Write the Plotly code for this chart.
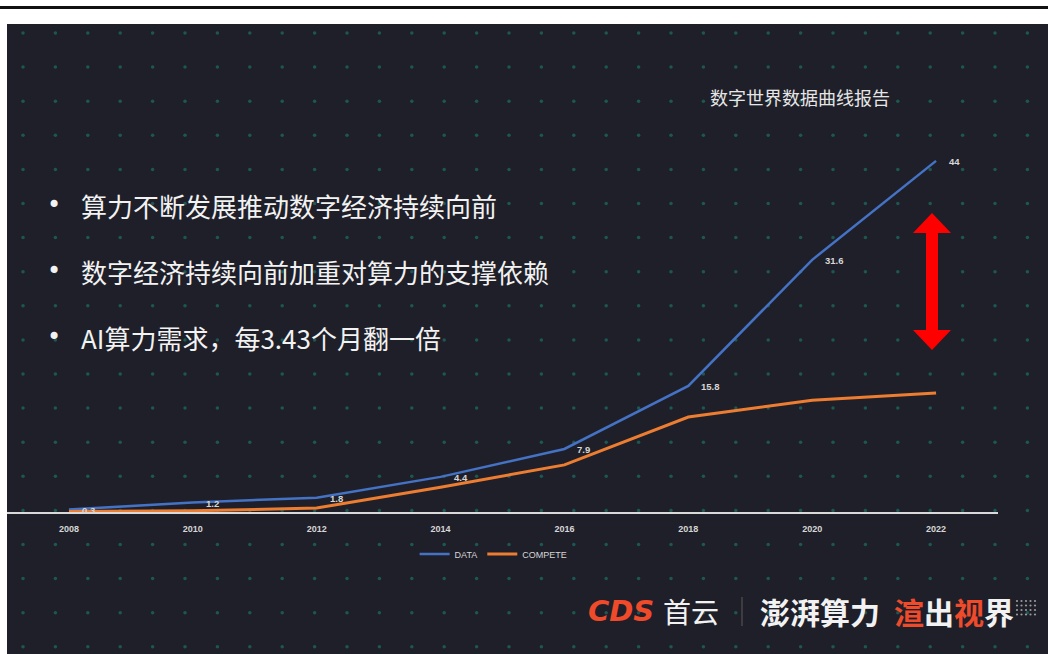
import numpy as np
import plotly.graph_objects as go

W, H = 1048, 654

# ---- data ----
years = [2008, 2010, 2012, 2014, 2016, 2018, 2020, 2022]
data_values = [0.3, 1.2, 1.8, 4.4, 7.9, 15.8, 31.6, 44]
compete_values = [0.05, 0.15, 0.5, 3.1, 5.9, 11.9, 14.0, 14.9]
year_labels = [str(y) for y in years]

title_text = "数字世界数据曲线报告"
bullet_lines = [
    "算力不断发展推动数字经济持续向前",
    "数字经济持续向前加重对算力的支撑依赖",
    "AI算力需求，每3.43个月翻一倍",
]

PANEL = "#1f1f29"
DOT = "#1d5752"
LABEL = "#d6d6d6"
BLUE = "#4472c4"
ORANGE = "#ed7d31"
LOGO_RED = "#ef4b2b"
CJK = "Noto Sans CJK SC"


def px(x):
    return x / W


def py(y):
    return 1 - y / H


fig = go.Figure()

# background dot grid (pixel-space overlay axes x/y)
gx = 23 + 32.4 * np.arange(32)
gy = 33 + 34.1 * np.arange(19)
GX, GY = np.meshgrid(gx, gy)
fig.add_trace(go.Scatter(
    x=GX.ravel(), y=GY.ravel(), mode="markers",
    marker=dict(size=3.5, color=DOT), hoverinfo="skip", showlegend=False,
    xaxis="x", yaxis="y",
))

# small dotted mark after the slogan
lx = 1017 + 4.5 * np.arange(5)
ly = 601 + 4.5 * np.arange(4)
LX, LY = np.meshgrid(lx, ly)
fig.add_trace(go.Scatter(
    x=LX.ravel(), y=LY.ravel(), mode="markers",
    marker=dict(size=2.2, color="#9a9a9a"), hoverinfo="skip", showlegend=False,
    xaxis="x", yaxis="y",
))

# data series
fig.add_trace(go.Scatter(
    x=years, y=data_values, mode="lines", name="DATA",
    line=dict(color=BLUE, width=2.5), xaxis="x2", yaxis="y2",
))
fig.add_trace(go.Scatter(
    x=years, y=compete_values, mode="lines", name="COMPETE",
    line=dict(color=ORANGE, width=3), xaxis="x2", yaxis="y2",
))

annotations = []
# value labels on the DATA series
for yr, v in zip(years, data_values):
    annotations.append(dict(
        x=yr, y=v, xref="x2", yref="y2", text=f"<b>{v:g}</b>", showarrow=False,
        xanchor="left", yanchor="middle", xshift=11, yshift=-1,
        font=dict(family="Liberation Sans", size=9.5, color=LABEL),
    ))

# chart title
annotations.append(dict(
    x=800, y=97, xref="x", yref="y", text=title_text, showarrow=False,
    xanchor="center", yanchor="middle",
    font=dict(family=CJK, size=18, color="#e6e6e6"),
))

# bullet points
for i, line in enumerate(bullet_lines):
    yy = 205 + 66 * i
    annotations.append(dict(
        x=54, y=yy, xref="x", yref="y", text="•", showarrow=False,
        xanchor="center", yanchor="middle",
        font=dict(family="DejaVu Sans", size=24, color="#f2f2f2"),
    ))
    annotations.append(dict(
        x=79, y=yy, xref="x", yref="y", text=line, showarrow=False,
        xanchor="left", yanchor="middle",
        font=dict(family=CJK, size=26, color="#f2f2f2"),
    ))

# footer slogan
annotations += [
    dict(x=621, y=611, xref="x", yref="y", text="<b><i>CDS</i></b>",
         showarrow=False, xanchor="center", yanchor="middle",
         font=dict(family="DejaVu Sans", size=29, color=LOGO_RED)),
    dict(x=691, y=611, xref="x", yref="y", text="首云",
         showarrow=False, xanchor="center", yanchor="middle",
         font=dict(family=CJK, size=28, color="#f2f2f2")),
    dict(x=820, y=611, xref="x", yref="y", text="<b>澎湃算力</b>",
         showarrow=False, xanchor="center", yanchor="middle",
         font=dict(family=CJK, size=30, color="#f2f2f2")),
    dict(x=954, y=611, xref="x", yref="y",
         text=(f"<b><span style='color:{LOGO_RED}'>渲</span>出"
               f"<span style='color:{LOGO_RED}'>视</span>界</b>"),
         showarrow=False, xanchor="center", yanchor="middle",
         font=dict(family=CJK, size=30, color="#f2f2f2")),
]

# red double-headed arrow
ax, top, bot = 932, 213, 350
hw, sw, hl = 19, 6, 20
arrow_path = (
    f"M {ax} {top} L {ax + hw} {top + hl} L {ax + sw} {top + hl} "
    f"L {ax + sw} {bot - hl} L {ax + hw} {bot - hl} L {ax} {bot} "
    f"L {ax - hw} {bot - hl} L {ax - sw} {bot - hl} L {ax - sw} {top + hl} "
    f"L {ax - hw} {top + hl} Z"
)

shapes = [
    # dark slide panel
    dict(type="rect", xref="paper", yref="paper", x0=px(7), x1=1, y0=0, y1=py(24),
         fillcolor=PANEL, line=dict(width=0), layer="below"),
    # top rule
    dict(type="line", xref="paper", yref="paper", x0=0, x1=1, y0=py(7.5), y1=py(7.5),
         line=dict(color="#111111", width=3), layer="below"),
    # slogan separator
    dict(type="line", xref="x", yref="y", x0=742, x1=742, y0=597, y1=626,
         line=dict(color="#5a5a5a", width=1)),
    dict(type="path", xref="x", yref="y", path=arrow_path,
         fillcolor="#ff0000", line=dict(width=0)),
]

fig.update_layout(
    width=W, height=H,
    margin=dict(l=0, r=0, t=0, b=0),
    paper_bgcolor="white",
    plot_bgcolor="rgba(0,0,0,0)",
    showlegend=True,
    legend=dict(
        orientation="h", x=0.471, y=py(554), xanchor="center", yanchor="middle",
        bgcolor="rgba(0,0,0,0)",
        font=dict(family="Liberation Sans", size=9, color=LABEL),
        itemwidth=30,
    ),
    xaxis=dict(domain=[0, 1], range=[0, W], visible=False, fixedrange=True),
    yaxis=dict(domain=[0, 1], range=[H, 0], visible=False, fixedrange=True),
    xaxis2=dict(
        domain=[px(7), px(998)], range=[2007, 2023], anchor="y2",
        showline=True, linecolor="#d9d9d9", linewidth=2,
        showgrid=False, zeroline=False,
        tickvals=years, ticktext=[f"<b>{t}</b>" for t in year_labels],
        ticks="outside", ticklen=7, tickcolor="rgba(0,0,0,0)",
        tickfont=dict(family="Liberation Sans", size=9, color=LABEL),
        layer="below traces",
    ),
    yaxis2=dict(
        domain=[py(512), py(113)], range=[0, 50], anchor="x2",
        visible=False, showgrid=False, zeroline=False,
    ),
    annotations=annotations,
    shapes=shapes,
)

fig.write_html("out.html")
